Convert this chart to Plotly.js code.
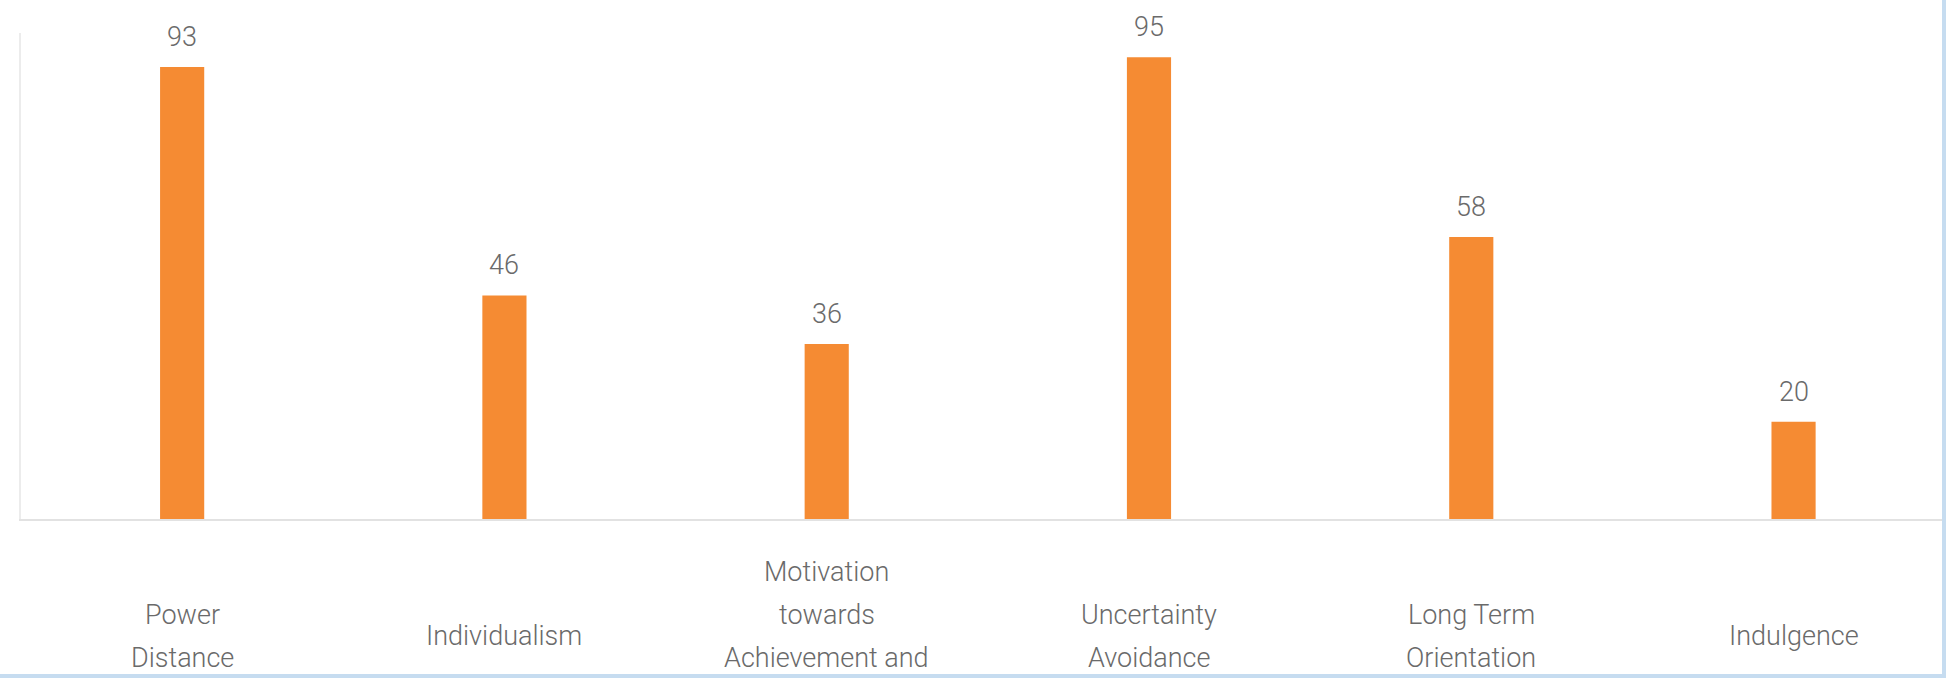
<!DOCTYPE html>
<html>
<head>
<meta charset="utf-8">
<script src="https://cdn.plot.ly/plotly-3.0.1.min.js"></script>
<style>
  html, body { margin: 0; padding: 0; background: #c6dcf0; width: 1946px; height: 678px; overflow: hidden; }
  #chart { width: 1942px; height: 674px; background: #ffffff; }
</style>
</head>
<body>
<div id="chart"></div>
<script>
// Data
var categories = ["Power Distance", "Individualism", "Motivation towards Achievement and Success",
                  "Uncertainty Avoidance", "Long Term Orientation", "Indulgence"];
var scores = [93, 46, 36, 95, 58, 20];
var tickLabels = ["Power<br>Distance", "Individualism", "Motivation<br>towards<br>Achievement and<br>Success",
                  "Uncertainty<br>Avoidance", "Long Term<br>Orientation", "Indulgence"];

var FONT = "Roboto, 'Open Sans', Arial, sans-serif";
var TEXT_COLOR = "#6a6a6a";
var FONT_SIZE = 27;
var LABEL_CENTER_PX = 636;   // vertical centre of category labels (page px)
var LINE_STEP = 43;          // line spacing of category labels
var PLOT_TOP = 33, PLOT_BOTTOM = 519, CANVAS_H = 674;

var annotations = [];
// value labels above bars
for (var i = 0; i < categories.length; i++) {
  annotations.push({
    x: categories[i], y: scores[i], xref: "x", yref: "y",
    text: String(scores[i]), showarrow: false,
    xanchor: "center", yanchor: "middle", yshift: 30,
    font: {family: FONT, size: FONT_SIZE, color: TEXT_COLOR, weight: 300}
  });
}
// category labels, vertically centred below the axis (the frame crops what falls below it)
var labelPaperY = (PLOT_BOTTOM - LABEL_CENTER_PX) / (PLOT_BOTTOM - PLOT_TOP);
for (var i = 0; i < categories.length; i++) {
  var lines = tickLabels[i].split("<br>");
  var n = lines.length;
  for (var j = 0; j < n; j++) {
    var off = (j - (n - 1) / 2) * LINE_STEP;
    if (LABEL_CENTER_PX + off - FONT_SIZE / 2 > CANVAS_H) continue; // hidden by the frame in the reference
    annotations.push({
      x: categories[i], y: labelPaperY, xref: "x", yref: "paper",
      text: lines[j], showarrow: false,
      xanchor: "center", yanchor: "middle",
      yshift: -off,
      font: {family: FONT, size: FONT_SIZE, color: TEXT_COLOR, weight: 300}
    });
  }
}

var trace = {
  type: "bar",
  x: categories,
  y: scores,
  width: 0.137,
  marker: {color: "#f58b33", line: {width: 0}},
  hoverinfo: "none"
};

var layout = {
  width: 1942, height: CANVAS_H,
  margin: {l: 21, r: 0, t: PLOT_TOP, b: CANVAS_H - PLOT_BOTTOM, pad: 0},
  paper_bgcolor: "#ffffff", plot_bgcolor: "#ffffff",
  showlegend: false,
  xaxis: {
    type: "category",
    range: [-0.5, 5.4606],
    showticklabels: false, ticks: "",
    showgrid: false, zeroline: false,
    showline: true, linecolor: "#e2e2e2", linewidth: 2,
    fixedrange: true
  },
  yaxis: {
    range: [0, 100],
    showticklabels: false, ticks: "",
    showgrid: false, zeroline: false,
    showline: true, linecolor: "#ececec", linewidth: 2,
    fixedrange: true
  },
  annotations: annotations
};

Plotly.newPlot("chart", [trace], layout, {displayModeBar: false, staticPlot: true});
</script>
</body>
</html>
